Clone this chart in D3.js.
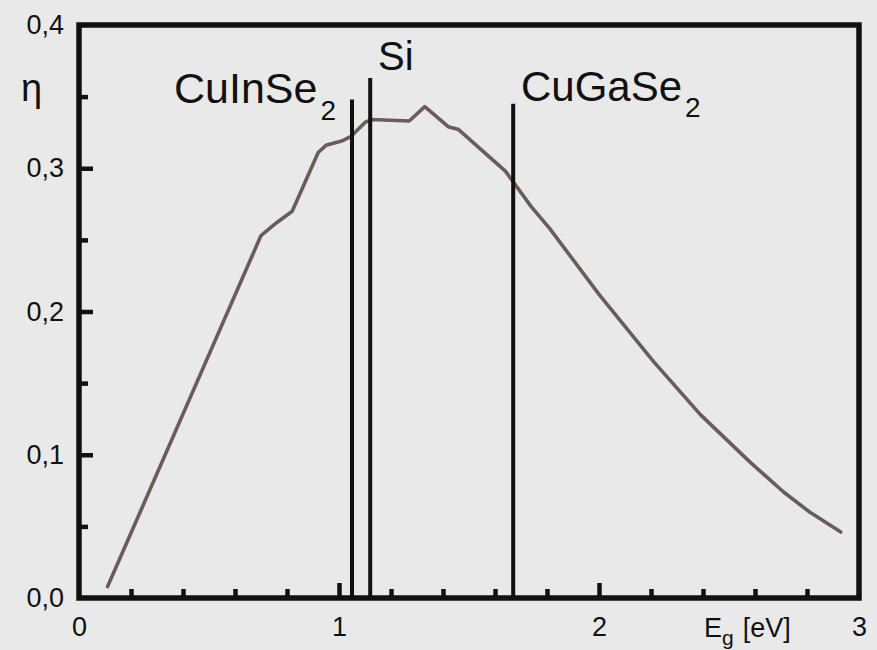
<!DOCTYPE html>
<html>
<head>
<meta charset="utf-8">
<script src="https://cdn.jsdelivr.net/npm/d3@7"></script>
<style>
  html, body { margin: 0; padding: 0; background: #e9e9e9; }
  svg { display: block; }
  text { font-family: "Liberation Sans", Arial, sans-serif; fill: #111; }
</style>
</head>
<body>
<svg id="chart" width="877" height="650"></svg>
<script>
// Theoretical conversion efficiency vs. band gap
const bandGap = [0.11, 0.70, 0.76, 0.82, 0.92, 0.95, 1.01, 1.045, 1.10, 1.125,
                 1.27, 1.33, 1.42, 1.46, 1.64, 1.74, 1.81, 2.00, 2.21, 2.39, 2.58,
                 2.71, 2.81, 2.93];
const efficiency = [0.008, 0.253, 0.262, 0.270, 0.311, 0.316, 0.319, 0.322, 0.332, 0.334,
                    0.333, 0.343, 0.329, 0.327, 0.298, 0.273, 0.258, 0.212, 0.165, 0.128, 0.095,
                    0.074, 0.060, 0.046];

// Absorber materials marked by vertical lines
const materials = ["CuInSe", "Si", "CuGaSe"];
const materialSub = ["2", "", "2"];
const materialGap = [1.05, 1.12, 1.67];
const materialTop = [0.348, 0.363, 0.345];

const xMajorTicks = [0, 1, 2, 3];
const xMinorTicks = [0.2, 0.4, 0.6, 0.8, 1.2, 1.4, 1.6, 1.8, 2.2, 2.4, 2.6, 2.8];
const yMajorTicks = [0, 0.1, 0.2, 0.3, 0.4];
const yMinorTicks = [0.05, 0.15, 0.25, 0.35];

const svg = d3.select("#chart");
const plotLeft = 79, plotRight = 859, plotTop = 25, plotBottom = 598;

const x = d3.scaleLinear().domain([0, 3]).range([plotLeft, plotRight]);
const y = d3.scaleLinear().domain([0, 0.4]).range([plotBottom, plotTop]);

const commaFmt = d3.formatLocale({decimal: ",", thousands: ".", grouping: [3], currency: ["", ""]}).format(".1f");

const ink = "#111";

// axes with inward ticks
const xMajor = svg.append("g").attr("transform", `translate(0,${plotBottom})`)
  .call(d3.axisBottom(x).tickValues(xMajorTicks).tickFormat(d3.format("d"))
        .tickSizeInner(-15).tickSizeOuter(0).tickPadding(19));
const xMinor = svg.append("g").attr("transform", `translate(0,${plotBottom})`)
  .call(d3.axisBottom(x).tickValues(xMinorTicks).tickFormat("")
        .tickSizeInner(-9).tickSizeOuter(0));
const yMajor = svg.append("g").attr("transform", `translate(${plotLeft},0)`)
  .call(d3.axisLeft(y).tickValues(yMajorTicks).tickFormat(commaFmt)
        .tickSizeInner(-14).tickSizeOuter(0).tickPadding(15));
const yMinor = svg.append("g").attr("transform", `translate(${plotLeft},0)`)
  .call(d3.axisLeft(y).tickValues(yMinorTicks).tickFormat("")
        .tickSizeInner(-9).tickSizeOuter(0));

[xMajor, xMinor, yMajor, yMinor].forEach(g => {
  g.select(".domain").remove();
  g.selectAll(".tick line").attr("stroke", ink).attr("stroke-width", 4.5);
  g.selectAll(".tick text").attr("font-size", 27).attr("fill", ink)
    .attr("font-family", "Liberation Sans, Arial, sans-serif");
});
// ticks at the frame edges would only thicken the border
xMajor.selectAll(".tick").filter(d => d === 0 || d === 3).select("line").remove();
yMajor.selectAll(".tick").filter(d => d === 0 || d === 0.4).select("line").remove();

// frame
svg.append("rect")
  .attr("x", plotLeft).attr("y", plotTop)
  .attr("width", plotRight - plotLeft).attr("height", plotBottom - plotTop)
  .attr("fill", "none").attr("stroke", ink).attr("stroke-width", 5.5);

// efficiency curve
const line = d3.line().x((d, i) => x(bandGap[i])).y(d => y(d)).curve(d3.curveLinear);
svg.append("path")
  .attr("d", line(efficiency))
  .attr("fill", "none")
  .attr("stroke", "#6b5c59")
  .attr("stroke-width", 3.6)
  .attr("stroke-linejoin", "round")
  .attr("stroke-linecap", "round");

// material markers
svg.selectAll(".marker").data(materialGap).enter().append("line")
  .attr("class", "marker")
  .attr("x1", d => x(d)).attr("x2", d => x(d))
  .attr("y1", y(0)).attr("y2", (d, i) => y(materialTop[i]))
  .attr("stroke", ink).attr("stroke-width", 4);

// material labels
const labelPos = [
  {x: 174, y: 103, size: 43, sub: 17},
  {x: 378, y: 70, size: 40, sub: 0},
  {x: 521, y: 101, size: 42, sub: 16}
];
materials.forEach((name, i) => {
  const p = labelPos[i];
  const t = svg.append("text").attr("x", p.x).attr("y", p.y).attr("font-size", p.size);
  t.append("tspan").text(name);
  if (materialSub[i]) {
    t.append("tspan").attr("dx", 3).attr("dy", p.sub).attr("font-size", 28).text(materialSub[i]);
  }
});

// axis titles
svg.append("text").attr("x", 21).attr("y", 101).attr("font-size", 38).text("η");

const xt = svg.append("text").attr("x", 704).attr("y", 637).attr("font-size", 27);
xt.append("tspan").text("E");
xt.append("tspan").attr("dy", 8).attr("font-size", 21).text("g");
xt.append("tspan").attr("dy", -8).attr("dx", 9).text("[eV]");
</script>
</body>
</html>
